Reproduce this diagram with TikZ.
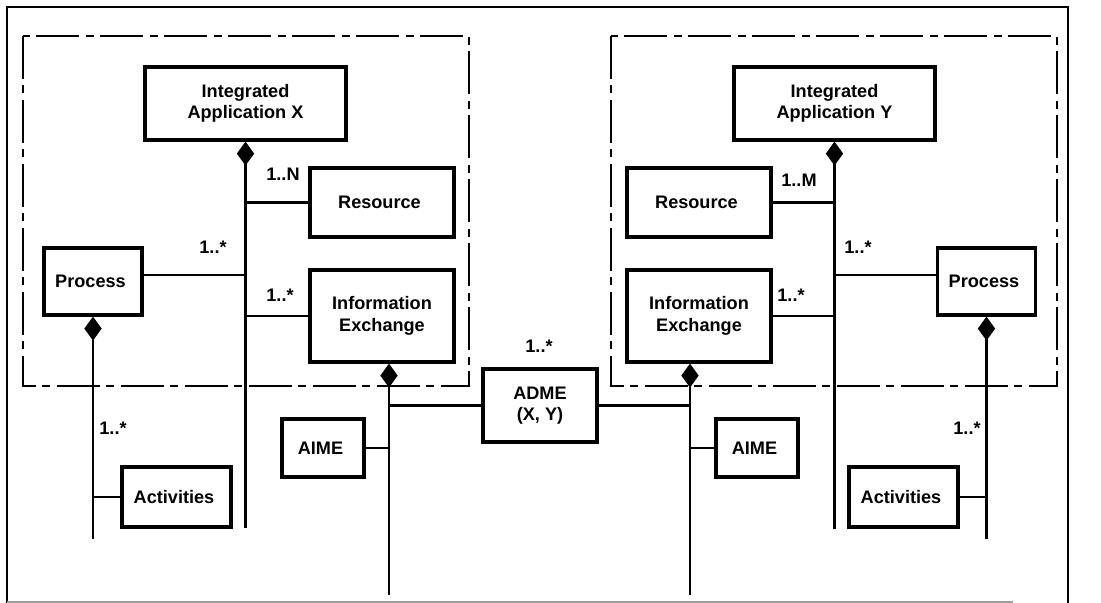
\documentclass[tikz,border=0pt]{standalone}
\usepackage{fontspec}
\setmainfont{Liberation Sans}
\usetikzlibrary{arrows.meta,calc}
\definecolor{rahmenGrau}{rgb}{0.62,0.62,0.62}
\tikzstyle{block} = [draw=black,line width=2.4pt,rectangle,align=center,inner sep=2pt,font=\bfseries\fontsize{13.6}{16}\selectfont]
\tikzstyle{mult} = [inner sep=0pt,font=\bfseries\fontsize{13.6}{16}\selectfont]
\tikzstyle{link} = [line width=1.8pt]
\tikzstyle{part} = [line width=1.8pt,{Diamond[length=18pt,width=13pt]}-]
\tikzstyle{grenze} = [line width=1.9pt,dash pattern=on 32pt off 5pt on 6pt off 5pt]
\begin{document}
\begin{tikzpicture}[x=0.75pt,y=-0.75pt]
\useasboundingbox (0,0) rectangle (1101,603);

% outer frame
\draw[line width=2.1pt] (7,603) -- (7,7) -- (1068,7) -- (1068,603);
\draw[rahmenGrau,line width=0.9pt] (7,602) -- (1013,602);

% application borders
\draw[grenze] (23,36) rectangle (469,386);
\draw[grenze] (611,36) rectangle (1057,386);

%%% application X
\node[block,minimum width=150.75pt,minimum height=54.75pt] (IAX) at (245.5,103.5) {
	Integrated\\Application X
};
\node[block,minimum width=108pt,minimum height=51.75pt] (RX) at (382,202.5) {
	Resource
};
\node[block,minimum width=73.5pt,minimum height=50.25pt] (PX) at (93,281.5) {
	Process
};
\node[block,minimum width=108pt,minimum height=69pt] (IEX) at (382,316) {
	Information\\Exchange
};
\node[block,minimum width=61.5pt,minimum height=43.5pt] (AX) at (323,448) {
	AIME
};
\node[block,minimum width=81.75pt,minimum height=45pt] (ACX) at (176.5,497) {
	Activities
};

\draw[part] (IAX.south) -- ++(0,386);
\draw[link] (RX.west) -- (RX.west -| IAX.south);
\coordinate (px1) at ($(PX.east)+(0,-6.5)$);
\draw[link] (px1) -- (px1 -| IAX.south);
\draw[link] (IEX.west) -- (IEX.west -| IAX.south);

\draw[part] (PX.south) -- ++(0,222);
\draw[link] (ACX.west) -- (ACX.west -| PX.south);

\coordinate (iex) at ($(IEX.south)+(7,0)$);
\draw[part] (iex) -- ++(0,231);
\draw[link] (AX.east) -- (AX.east -| iex);

\node[mult] (mRX) at (283,174) {1..N};
\node[mult] (mPX) at (213,247) {1..*};
\node[mult] (mIEX) at (280,295) {1..*};
\node[mult] (mACX) at (113,428) {1..*};

%%% link between X and Y
\node[block,minimum width=85.5pt,minimum height=54.75pt] (ADME) at (540,405.5) {
	ADME\\(X, Y)
};
\node[mult] (mADME) at (539,346) {1..*};
\draw[link] (ADME.west) -- (ADME.west -| iex);

%%% application Y
\node[block,minimum width=150.75pt,minimum height=54.75pt] (IAY) at (834.5,103.5) {
	Integrated\\Application Y
};
\node[block,minimum width=108pt,minimum height=51.75pt] (RY) at (699,202.5) {
	Resource
};
\node[block,minimum width=73.5pt,minimum height=50.25pt] (PY) at (986.5,281.5) {
	Process
};
\node[block,minimum width=108pt,minimum height=69pt] (IEY) at (699,316) {
	Information\\Exchange
};
\node[block,minimum width=61.5pt,minimum height=43.5pt] (AY) at (757,448) {
	AIME
};
\node[block,minimum width=81.75pt,minimum height=45pt] (ACY) at (903.5,497) {
	Activities
};

\draw[part] (IAY.south) -- ++(0,387);
\draw[link] (RY.east) -- (RY.east -| IAY.south);
\coordinate (py1) at ($(PY.west)+(0,-6.5)$);
\draw[link] (py1) -- (py1 -| IAY.south);
\draw[link] (IEY.east) -- (IEY.east -| IAY.south);

\draw[part] (PY.south) -- ++(0,222);
\draw[link] (ACY.east) -- (ACY.east -| PY.south);

\coordinate (iey) at ($(IEY.south)+(-9,0)$);
\draw[part] (iey) -- ++(0,231);
\draw[link] (AY.west) -- (AY.west -| iey);
\draw[link] (ADME.east) -- (ADME.east -| iey);

\node[mult] (mRY) at (799,180) {1..M};
\node[mult] (mPY) at (858,247) {1..*};
\node[mult] (mIEY) at (791,295) {1..*};
\node[mult] (mACY) at (967,428) {1..*};
\end{tikzpicture}
\end{document}
